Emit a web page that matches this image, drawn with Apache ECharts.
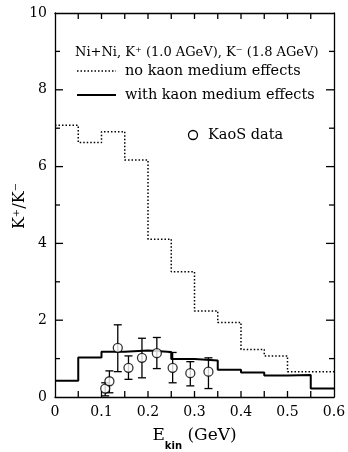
<!DOCTYPE html>
<html>
<head>
<meta charset="utf-8">
<script src="https://cdn.jsdelivr.net/npm/echarts@6/dist/echarts.min.js"></script>
<style>
html,body{margin:0;padding:0;background:#fff;}
#chart{width:348px;height:452px;}
</style>
</head>
<body>
<div id="chart"></div>
<script>
// Bin edges (GeV) for the step histograms
const binEdges = [0, 0.05, 0.10, 0.15, 0.20, 0.25, 0.30, 0.35, 0.40, 0.45, 0.50, 0.55, 0.60];
// K+/K- without kaon medium effects (one value per bin)
const noMediumValues = [7.08, 6.63, 6.91, 6.17, 4.11, 3.26, 2.24, 1.94, 1.24, 1.07, 0.66, 0.66];
// K+/K- with kaon medium effects
const withMediumValues = [0.42, 1.03, 1.18, 1.21, 1.17, 0.99, 0.95, 0.71, 0.64, 0.56, 0.57, 0.22];
// KaoS data points
const kaosE     = [0.108, 0.117, 0.135, 0.158, 0.187, 0.219, 0.253, 0.291, 0.330];
const kaosRatio = [0.22, 0.41, 1.28, 0.76, 1.02, 1.14, 0.76, 0.62, 0.66];
const kaosLow   = [0.03, 0.11, 0.66, 0.46, 0.50, 0.74, 0.37, 0.29, 0.22];
const kaosHigh  = [0.37, 0.68, 1.88, 1.07, 1.53, 1.55, 1.16, 0.92, 1.02];
// Axis ticks
const xTicks = [0, 0.1, 0.2, 0.3, 0.4, 0.5, 0.6];
const yTicks = [0, 2, 4, 6, 8, 10];
const xTickMarks = [0.05, 0.1, 0.15, 0.2, 0.25, 0.3, 0.35, 0.4, 0.45, 0.5, 0.55];
const yTickMarks = [1, 2, 3, 4, 5, 6, 7, 8, 9];

function stepData(vals) {
  const d = [];
  for (let i = 0; i < vals.length; i++) d.push([binEdges[i], vals[i]]);
  d.push([binEdges[binEdges.length - 1], vals[vals.length - 1]]);
  return d;
}

const chart = echarts.init(document.getElementById('chart'), null, {renderer: 'canvas'});
const black = '#000';
const serif = 'DejaVu Serif';

function baseAxis(showLabel) {
  return {
    axisLine: {show: true, onZero: false, lineStyle: {color: black, width: 1.3}},
    axisTick: {show: false},
    minorTick: {show: false},
    splitLine: {show: false},
    axisLabel: {show: showLabel, color: black, fontFamily: serif, fontSize: 14, margin: 8}
  };
}

const option = {
  backgroundColor: '#fff',
  animation: false,
  grid: {left: 55, right: 14, top: 13, bottom: 55, containLabel: false, outerBoundsMode: 'none'},
  xAxis: [
    Object.assign(baseAxis(true), {
      type: 'value', min: xTicks[0], max: xTicks[xTicks.length - 1], interval: 0.1, position: 'bottom',
      name: '{e|E}{s|kin}{e| (GeV)}', nameLocation: 'middle', nameGap: 30,
      nameTextStyle: {
        color: black,
        rich: {
          e: {fontFamily: serif, fontSize: 17, color: black, verticalAlign: 'top', lineHeight: 22},
          s: {fontFamily: 'DejaVu Sans', fontSize: 10, fontWeight: 'bold', color: black, verticalAlign: 'top', lineHeight: 22, padding: [14, 0, 0, 0]}
        }
      }
    }),
    Object.assign(baseAxis(false), {type: 'value', min: 0, max: 0.6, interval: 0.1, position: 'top'})
  ],
  yAxis: [
    Object.assign(baseAxis(true), {
      type: 'value', min: yTicks[0], max: yTicks[yTicks.length - 1], interval: 2, position: 'left'
    }),
    Object.assign(baseAxis(false), {type: 'value', min: 0, max: 10, interval: 2, position: 'right'})
  ],
  series: [
    {
      name: 'xTicks', type: 'custom', z: 5,
      data: xTickMarks.map(v => [v, 0]),
      renderItem: function (params, api) {
        const cs = params.coordSys;
        const px = api.coord([api.value(0), 0])[0];
        const L = 6;
        return {type: 'group', children: [
          {type: 'line', shape: {x1: px, y1: cs.y + cs.height, x2: px, y2: cs.y + cs.height - L}, style: {stroke: black, lineWidth: 1.3}},
          {type: 'line', shape: {x1: px, y1: cs.y, x2: px, y2: cs.y + L}, style: {stroke: black, lineWidth: 1.3}}
        ]};
      }
    },
    {
      name: 'yTicks', type: 'custom', z: 5,
      data: yTickMarks.map(v => [0.3, v]),
      renderItem: function (params, api) {
        const cs = params.coordSys;
        const v = api.value(1);
        const py = api.coord([0, v])[1];
        const L = (v % 2 === 0) ? 8 : 5;
        return {type: 'group', children: [
          {type: 'line', shape: {x1: cs.x, y1: py, x2: cs.x + L, y2: py}, style: {stroke: black, lineWidth: 1.3}},
          {type: 'line', shape: {x1: cs.x + cs.width, y1: py, x2: cs.x + cs.width - L, y2: py}, style: {stroke: black, lineWidth: 1.3}}
        ]};
      }
    },
    {
      name: 'no kaon medium effects', type: 'line', step: 'end', showSymbol: false, symbol: 'none',
      data: stepData(noMediumValues),
      lineStyle: {color: black, width: 1.5, type: [1.5, 2]}
    },
    {
      name: 'with kaon medium effects', type: 'line', step: 'end', showSymbol: false, symbol: 'none',
      data: stepData(withMediumValues),
      lineStyle: {color: black, width: 2}
    },
    {
      name: 'errors', type: 'custom',
      data: kaosE.map((e, i) => [e, kaosLow[i], kaosHigh[i]]),
      renderItem: function (params, api) {
        const x = api.value(0);
        const lo = api.coord([x, api.value(1)]);
        const hi = api.coord([x, api.value(2)]);
        const w = 4;
        return {
          type: 'group',
          children: [
            {type: 'line', shape: {x1: lo[0], y1: lo[1], x2: hi[0], y2: hi[1]}, style: {stroke: black, lineWidth: 1.3}},
            {type: 'line', shape: {x1: lo[0] - w, y1: lo[1], x2: lo[0] + w, y2: lo[1]}, style: {stroke: black, lineWidth: 1.3}},
            {type: 'line', shape: {x1: hi[0] - w, y1: hi[1], x2: hi[0] + w, y2: hi[1]}, style: {stroke: black, lineWidth: 1.3}}
          ]
        };
      },
      z: 3
    },
    {
      name: 'KaoS data', type: 'scatter', symbol: 'circle', symbolSize: 9,
      data: kaosE.map((e, i) => [e, kaosRatio[i]]),
      itemStyle: {color: '#fff', borderColor: black, borderWidth: 1.3},
      z: 4
    }
  ],
  graphic: [
    {type: 'text', x: 20, y: 206, rotation: Math.PI / 2, style: {x: 0, y: 0, text: 'K⁺/K⁻', fontFamily: serif, fontSize: 16, fill: black, align: 'center', verticalAlign: 'middle'}},
    {type: 'text', style: {x: 75, y: 53, text: 'Ni+Ni, K⁺ (1.0 AGeV), K⁻ (1.8 AGeV)', fontFamily: serif, fontSize: 13, fill: black, verticalAlign: 'middle'}},
    {type: 'line', shape: {x1: 77, y1: 71, x2: 116, y2: 71}, style: {stroke: black, lineWidth: 1.5, lineDash: [1.5, 2]}},
    {type: 'text', style: {x: 125, y: 71, text: 'no kaon medium effects', fontFamily: serif, fontSize: 14.5, fill: black, verticalAlign: 'middle'}},
    {type: 'line', shape: {x1: 77, y1: 95, x2: 116, y2: 95}, style: {stroke: black, lineWidth: 2}},
    {type: 'text', style: {x: 125, y: 95, text: 'with kaon medium effects', fontFamily: serif, fontSize: 14.5, fill: black, verticalAlign: 'middle'}},
    {type: 'circle', shape: {cx: 193, cy: 135, r: 4.5}, style: {fill: '#fff', stroke: black, lineWidth: 1.3}},
    {type: 'text', style: {x: 208, y: 135, text: 'KaoS data', fontFamily: serif, fontSize: 14.5, fill: black, verticalAlign: 'middle'}}
  ]
};
chart.setOption(option);
</script>
</body>
</html>
